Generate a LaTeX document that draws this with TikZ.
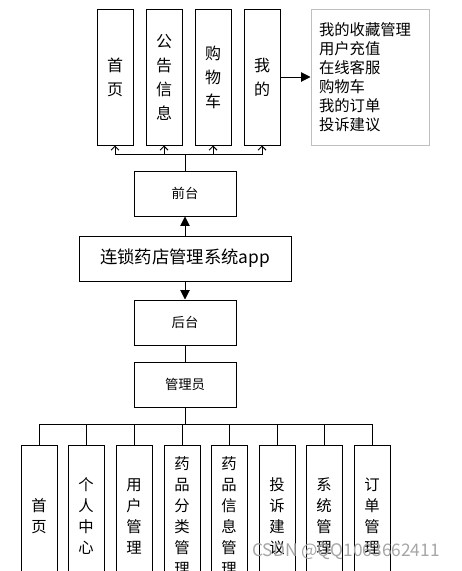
\documentclass[tikz,border=0pt]{standalone}
\usepackage{fontspec}
\setmainfont{Noto Sans CJK SC}
\usetikzlibrary{arrows.meta,shadows}

\tikzset{
  box/.style={draw, line width=0.75pt, fill=white, inner sep=0pt,
    drop shadow={shadow xshift=1pt, shadow yshift=-1pt, opacity=0.25, fill=blue!25}},
  colbox/.style={box, minimum width=27pt, minimum height=102pt, align=center,
    font=\fontsize{12}{18}\selectfont},
  lowbox/.style={box, minimum width=27pt, minimum height=106.5pt, align=center,
    font=\fontsize{11.5}{15.75}\selectfont},
  listbox/.style={box, draw=black!25, minimum width=88.5pt, minimum height=102pt,
    text width=76.5pt, align=left, font=\fontsize{11.5}{14.25}\selectfont},
  midbox/.style={box, minimum width=76.5pt, minimum height=33.75pt,
    font=\fontsize{10}{12}\selectfont},
  titlebox/.style={box, minimum width=159pt, minimum height=33.75pt,
    font=\fontsize{13}{15}\selectfont},
  tri/.style={-{Triangle[length=7pt,width=7pt]}},
  barb/.style={-{Straight Barb[length=3pt,width=6pt]}},
}

\begin{document}
\begin{tikzpicture}[x=0.75pt,y=0.75pt,yscale=-1,xscale=1,line width=0.75pt]
\useasboundingbox (0,0) rectangle (461,571);
\clip (0,0) rectangle (461,571);

% Front Nodes
\node[colbox] (shouye) at (115,77) {首\\页};
\node[colbox] (gonggao) at (164,77) {公\\告\\信\\息};
\node[colbox] (gouwu) at (213,77) {购\\物\\车};
\node[colbox] (wode) at (262,77) {我\\的};
\node[listbox] (wodelist) at (370,77) {我的收藏管理\\用户充值\\在线客服\\购物车\\我的订单\\投诉建议};

% Middle Nodes
\node[midbox] (qiantai) at (185,193.5) {前台};
\node[titlebox] (app) at (185,258.5) {连锁药店管理系统app};
\node[midbox] (houtai) at (185,322.5) {后台};
\node[midbox] (admin) at (185,384.5) {管理员};

% Back Nodes
\node[lowbox] (sy) at (39,516) {首\\页};
\node[lowbox] (grzx) at (86,516) {个\\人\\中\\心};
\node[lowbox] (yhgl) at (134,516) {用\\户\\管\\理};
\node[lowbox] (ypfl) at (182,516) {药\\品\\分\\类\\管\\理};
\node[lowbox] (ypxx) at (229,516) {药\\品\\信\\息\\管\\理};
\node[lowbox] (tsjy) at (277,516) {投\\诉\\建\\议};
\node[lowbox] (xtgl) at (324,516) {系\\统\\管\\理};
\node[lowbox] (ddgl) at (372,516) {订\\单\\管\\理};

% Bus Points
\coordinate (tbus) at (185,154);
\coordinate (bbus) at (185,424);

%Straight Lines
\draw (qiantai.north) -- (tbus);
\draw[barb] (tbus) -| (shouye.south);
\draw[barb] (tbus) -| (gonggao.south);
\draw[barb] (tbus) -| (gouwu.south);
\draw[barb] (tbus) -| (wode.south);
\draw[tri] (wode.east) -- (wodelist.west);
\draw[tri] (app.north) -- (qiantai.south);
\draw[tri] (app.south) -- (houtai.north);
\draw (houtai.south) -- (admin.north);
\draw (admin.south) -- (bbus);
\draw (bbus) -| (sy.north);
\draw (bbus) -| (grzx.north);
\draw (bbus) -| (yhgl.north);
\draw (bbus) -| (ypfl.north);
\draw (bbus) -| (ypxx.north);
\draw (bbus) -| (tsjy.north);
\draw (bbus) -| (xtgl.north);
\draw (bbus) -| (ddgl.north);

% Text Node
\node[text=black!35, font=\fontsize{13}{13}\selectfont] (mark) at (346,552) {CSDN @QQ1063662411};

\end{tikzpicture}
\end{document}
